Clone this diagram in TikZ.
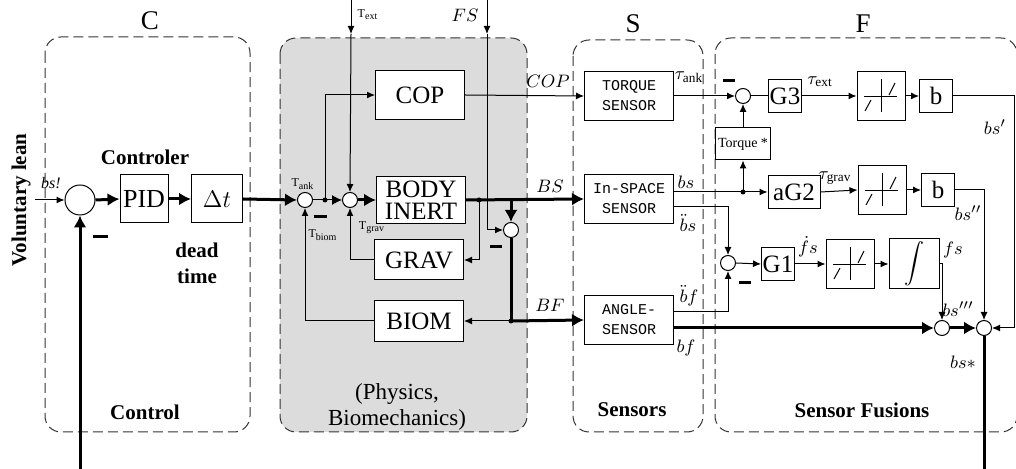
\documentclass[tikz,border=0pt]{standalone}
\usepackage{fontspec}
\setmainfont{Liberation Serif}
\setmonofont{Liberation Mono}
\usetikzlibrary{arrows.meta,calc}
\definecolor{panelgray}{HTML}{DCDCDC}
\definecolor{dashgray}{HTML}{333333}
\tikzset{
  panel/.style={draw=dashgray, dash pattern=on 5pt off 2.5pt, line width=0.5pt, rounded corners=8pt},
  blk/.style={draw, fill=white, line width=0.5pt, inner sep=0pt, align=center},
  bigbox/.style={blk, minimum width=44.5pt, minimum height=24pt, font=\fontsize{12.5}{12}\selectfont},
  sensbox/.style={blk, minimum width=44.5pt, minimum height=24.5pt, font=\ttfamily\fontsize{7.5}{10}\selectfont},
  gbox/.style={blk, minimum width=16.5pt, minimum height=16.5pt, font=\fontsize{12.5}{12}\selectfont},
  dzbox/.style={blk, minimum width=24pt, minimum height=24.5pt},
  sumbig/.style={circle, draw, fill=white, line width=0.5pt, minimum size=15pt, inner sep=0pt},
  sumsm/.style={circle, draw, fill=white, line width=0.5pt, minimum size=7.5pt, inner sep=0pt},
  dot/.style={circle, fill, inner sep=0pt, minimum size=2.5pt},
  arr/.style={-{Latex[length=4pt,width=3.5pt]}, line width=0.5pt},
  thickarr/.style={-{Latex[length=6pt,width=6.5pt]}, line width=1.5pt},
  thickln/.style={line width=1.5pt},
  title/.style={font=\fontsize{13.5}{14}\selectfont},
  boldtxt/.style={font=\bfseries\fontsize{10.5}{13}\selectfont, align=center},
  mlbl/.style={font=\fontsize{9.5}{10}\selectfont, inner sep=0pt},
  sublbl/.style={font=\fontsize{6}{7}\selectfont, inner sep=0pt},
  negsign/.style={inner sep=0pt}
}
\newcommand{\deadzone}[1]{
  \draw[line width=0.5pt] ([shift={(0,-17)}]#1.center) -- ([shift={(0,16)}]#1.center);
  \draw[line width=0.5pt] ([shift={(-17,1)}]#1.center) -- ([shift={(16,1)}]#1.center);
  \draw[line width=0.5pt] ([shift={(-16,15)}]#1.center) -- ([shift={(-10,4)}]#1.center);
  \draw[line width=0.5pt] ([shift={(8,-1)}]#1.center) -- ([shift={(14,-13)}]#1.center);
}
\begin{document}
\begin{tikzpicture}[x=0.5pt,y=-0.5pt]
\useasboundingbox (0,0) rectangle (1016,469);
\draw[panel] (45,37) rectangle (250,432);
\draw[panel, fill=panelgray] (280,38) rectangle (527,432);
\draw[panel] (573,40) rectangle (703,432);
\draw[panel] (715,38) rectangle (1017,432);
\node[title] (tC) at (150,21) {C};
\node[title] (tS) at (633,24) {S};
\node[title] (tF) at (863,24) {F};

% control
\node[sumbig] (sA) at (80,200) {};
\node[blk, minimum width=24pt, minimum height=24pt, font=\fontsize{13}{13}\selectfont] (pid) at (144,199) {PID};
\node[blk, minimum width=25.5pt, minimum height=24pt, font=\fontsize{13}{13}\selectfont] (dt) at (217,199) {$\Delta t$};
\coordinate (vlin) at (35,200);
\coordinate (fbin) at (80,469);
\node[boldtxt, rotate=90] (vlean) at (21,200) {Voluntary lean};
\node[font=\itshape\fontsize{8}{8}\selectfont, inner sep=0pt] (bsin) at (51,183) {bs!};
\node[negsign] (mA) at (100,237) {\rule{7.5pt}{1.5pt}};
\node[boldtxt] (ctrl) at (145,157) {Controler};
\node[boldtxt] (dead) at (197,263) {dead\\time};
\node[boldtxt] (control) at (145,412) {Control};
\draw[arr] (vlin) -- (sA.west);
\draw[thickarr] (fbin) -- (sA.south);
\draw[thickarr] (sA.east) -- (pid.west);
\draw[thickarr] (pid.east) -- (dt.west);

% physics
\node[sumsm] (sB) at (305,200) {};
\node[sumsm] (sC) at (350,200) {};
\node[sumsm] (sD) at (511,230) {};
\node[bigbox, minimum height=24.5pt] (cop) at (420,95) {COP};
\node[bigbox, minimum height=23.5pt, font=\fontsize{12.5}{11}\selectfont] (body) at (421,200) {BODY\\INERT};
\node[bigbox, minimum height=20pt] (grav) at (419,260) {GRAV};
\node[bigbox, minimum height=20.5pt] (biom) at (419,321) {BIOM};
\coordinate (jA) at (325,200);
\coordinate (jB) at (479,200);
\coordinate (jC) at (511,200);
\coordinate (jD) at (511,321);
\coordinate (extin) at (351,0);
\coordinate (exttip) at (351,34);
\coordinate (fsin) at (487,0);
\coordinate (fstip) at (487,34);
\node[dot] at (jA) {};
\node[dot] at (jB) {};
\node[dot] at (jD) {};
\draw[thickarr] (dt.east) -- (sB.west);
\draw[arr, -{Latex[length=5pt,width=5pt]}] (sB.east) -- (sC.west);
\draw[arr] (jA) |- (cop.west);
\draw[arr] (extin) -- (exttip);
\draw[arr] (exttip) -- (sC.north);
\draw[arr] (fsin) -- (fstip);
\draw[arr] (fstip) |- (sD.west);
\draw[thickarr] (sC.east) -- (body.west);
\draw[arr] (jB) |- (grav.east);
\draw[arr] (grav.west) -| (sC.south);
\draw[thickarr] (jC) -- (sD.north);
\draw[thickln] (sD.south) -- (jD);
\draw[arr] (jD) -- (biom.east);
\draw[arr] (biom.west) -| (sB.south);
\node[sublbl] (tank) at (303,184) {T\textsubscript{ank}};
\node[sublbl] (tbiom) at (323,235) {T\textsubscript{biom}};
\node[sublbl] (text) at (368,15) {T\textsubscript{ext}};
\node[sublbl] (tgrav) at (372,228) {T\textsubscript{grav}};
\node[mlbl] (fslbl) at (465,15) {$FS$};
\node[negsign] (mB) at (320,217) {\rule{6.5pt}{1.5pt}};
\node[negsign] (mD) at (496,247) {\rule{6pt}{1.5pt}};
\node[font=\fontsize{11.5}{13}\selectfont, align=center] (phys) at (397,407) {(Physics,\\Biomechanics)};

% sensors
\node[sensbox] (tq) at (629,96) {TORQUE\\SENSOR};
\node[sensbox] (insp) at (629,199) {In-SPACE\\SENSOR};
\node[sensbox] (ang) at (629,320) {ANGLE-\\SENSOR};
\draw[arr] (cop.east) -- (tq.west);
\draw[thickarr] (body.east) -- (insp.west);
\draw[thickarr] (jD) -- (ang.west);
\node[mlbl] (coplbl) at (548,81) {$COP$};
\node[mlbl] (bslbl) at (550,186) {$BS$};
\node[mlbl] (bflbl) at (550,305) {$BF$};
\node[mlbl] (tauank) at (689,77) {$\tau_{\mathrm{ank}}$};
\node[mlbl] (bsout) at (686,182) {$bs$};
\node[mlbl] (bsdd) at (688,223) {$\ddot{b}s$};
\node[mlbl] (bfdd) at (689,296) {$\ddot{b}f$};
\node[mlbl] (bfout) at (686,348) {$bf$};
\node[boldtxt] (sens) at (632,410) {Sensors};

% sensor fusions
\node[sumsm] (sE) at (743,96) {};
\node[sumsm] (sF) at (728,263) {};
\node[sumsm] (sG) at (942,328) {};
\node[sumsm] (sH) at (984,328) {};
\node[gbox] (gthree) at (785,96) {G3};
\node[dzbox] (dzA) at (881,96) {};
\node[gbox] (bA) at (936,96) {b};
\node[blk, minimum width=27.5pt, minimum height=16pt, font=\fontsize{7}{7}\selectfont] (torq) at (743,144) {Torque *};
\node[gbox, minimum width=26pt] (gtwo) at (794,192) {aG2};
\node[dzbox] (dzB) at (882,190) {};
\node[gbox] (bB) at (938,190) {b};
\node[gbox] (gone) at (778,264) {G1};
\node[dzbox] (dzC) at (850,264) {};
\node[dzbox, minimum width=25pt, minimum height=25pt, font=\fontsize{9}{9}\selectfont] (integ) at (914,264) {$\displaystyle\int$};
\foreach \n in {dzA,dzB,dzC} {\deadzone{\n}}
\coordinate (jE) at (sE |- gtwo.west);
\coordinate (cR) at (1014,96);
\coordinate (outB) at (984,469);
\node[dot] at (jE) {};
\draw[arr] (tq.east) -- (sE.west);
\draw[line width=0.5pt] (sE.east) -- (gthree.west);
\draw[arr] (gthree.east) -- (dzA.west);
\draw[arr] (dzA.east) -- (bA.west);
\draw[arr] (bA.east) -- (cR) |- (sH.east);
\draw[arr] (insp.east |- gtwo.west) -- (gtwo.west);
\draw[arr] (jE) -- (torq.south);
\draw[arr] (torq.north) -- (sE.south);
\draw[arr] (gtwo.east) -- (dzB.west);
\draw[arr] (dzB.east) -- (bB.west);
\draw[arr] (bB.east) -| (sH.north);
\draw[arr] ($(insp.east)+(0,8)$) -| (sF.north);
\draw[arr] ($(ang.east)+(0,-8)$) -| (sF.south);
\draw[arr] (sF.east) -- (gone.west);
\draw[arr] (gone.east) -- (dzC.west);
\draw[arr] (dzC.east) -- (integ.west);
\draw[arr] (integ.east) -| (sG.north);
\draw[thickarr] (ang.east |- sG.west) -- (sG.west);
\draw[thickarr] (sG.east) -- (sH.west);
\draw[thickln] (sH.south) -- (outB);
\node[negsign] (mE) at (729,81) {\rule{6pt}{1.5pt}};
\node[negsign] (mF) at (745,283) {\rule{6pt}{1.5pt}};
\node[mlbl] (tauext) at (820,82) {$\tau_{\mathrm{ext}}$};
\node[mlbl] (taugrav) at (835,178) {$\tau_{\mathrm{grav}}$};
\node[mlbl] (bsa) at (995,127) {$bs'$};
\node[mlbl] (bsb) at (968,213) {$bs''$};
\node[mlbl] (fsdot) at (808,247) {$\dot{f}s$};
\node[mlbl] (fsint) at (953,250) {$fs$};
\node[mlbl] (bsc) at (958,309) {$bs'''$};
\node[mlbl] (bsstar) at (963,362) {$bs*$};
\node[boldtxt] (fus) at (862,410) {Sensor Fusions};
\end{tikzpicture}
\end{document}
